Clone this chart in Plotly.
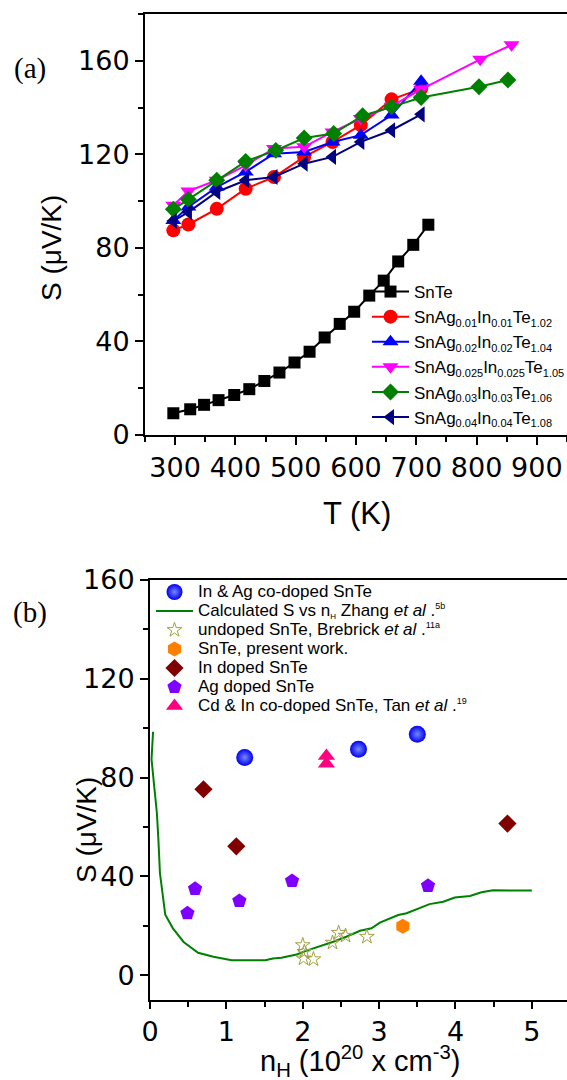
import plotly.graph_objects as go

# ---------------- Panel (a): S vs T ----------------
T_snte = [297, 325, 348, 372, 398, 423, 448, 473, 498, 523, 548, 573, 597, 622, 646, 670, 695, 720]
S_snte = [9.3, 11.0, 12.9, 14.9, 17.1, 19.6, 23.1, 26.7, 31.0, 35.6, 41.7, 47.5, 52.7, 59.6, 66.0, 74.2, 81.3, 89.9]

T_01 = [297, 322, 369, 417, 464, 514, 561, 608, 659, 708]
S_01 = [87.5, 90.0, 96.7, 105.3, 110.3, 118.9, 125.3, 132.5, 143.5, 148.0]

T_02 = [297, 322, 369, 417, 464, 514, 561, 608, 659, 708]
S_02 = [91.7, 97.5, 106.0, 112.5, 120.3, 121.0, 125.3, 128.2, 136.8, 151.3]

T_025 = [297, 322, 369, 417, 464, 514, 561, 608, 659, 708, 806, 858]
S_025 = [98.2, 104.3, 108.9, 115.3, 122.5, 123.2, 129.6, 135.3, 140.6, 147.8, 160.6, 166.8]

T_03 = [297, 322, 369, 417, 467, 514, 563, 611, 659, 708, 804, 852]
S_03 = [96.5, 100.7, 108.9, 117.0, 121.7, 127.0, 128.9, 136.5, 140.3, 144.3, 148.9, 151.8]

T_04 = [297, 322, 369, 417, 464, 514, 561, 608, 659, 708]
S_04 = [91.5, 95.3, 103.9, 108.9, 110.3, 116.0, 118.9, 125.3, 130.3, 137.1]


def sb(s):
    return "<sub><span style='font-size:11px'>" + s + "</span></sub>"


names_a = [
    "SnTe",
    "SnAg" + sb("0.01") + "In" + sb("0.01") + "Te" + sb("1.02"),
    "SnAg" + sb("0.02") + "In" + sb("0.02") + "Te" + sb("1.04"),
    "SnAg" + sb("0.025") + "In" + sb("0.025") + "Te" + sb("1.05"),
    "SnAg" + sb("0.03") + "In" + sb("0.03") + "Te" + sb("1.06"),
    "SnAg" + sb("0.04") + "In" + sb("0.04") + "Te" + sb("1.08"),
]

# ---------------- Panel (b): S vs n_H ----------------
n_coAgIn = [1.24, 2.73, 3.50]
S_coAgIn = [88.2, 91.5, 97.6]

n_calc = [0.04, 0.02, 0.06, 0.09, 0.11, 0.13, 0.20, 0.30, 0.44, 0.63, 0.83, 1.07, 1.51, 1.61, 1.72,
          1.92, 2.07, 2.23, 2.40, 2.57, 2.75, 2.90, 3.01, 3.25, 3.36, 3.66, 3.84, 3.99, 4.19, 4.34, 4.49, 5.00]
S_calc = [98.6, 87.5, 75.0, 65.8, 54.9, 41.4, 24.5, 19.0, 13.5, 9.1, 7.5, 6.1, 6.1, 6.8, 7.1,
          8.4, 10.2, 11.8, 13.6, 15.6, 18.0, 19.0, 21.3, 24.4, 25.1, 28.8, 29.8, 31.5, 32.1, 33.6, 34.4, 34.3]

n_undoped = [2.00, 2.02, 2.01, 2.14, 2.39, 2.47, 2.56, 2.84]
S_undoped = [12.2, 9.5, 6.8, 6.5, 13.2, 17.2, 16.0, 15.6]

n_present = [3.31]
S_present = [19.9]

n_In = [0.70, 1.13, 4.68]
S_In = [75.3, 52.2, 61.4]

n_Ag = [0.49, 0.59, 1.17, 1.86, 3.64]
S_Ag = [25.1, 35.0, 30.1, 38.2, 36.2]

n_CdIn = [2.31, 2.31]
S_CdIn = [88.8, 85.6]

names_b = [
    "In &amp; Ag co-doped SnTe",
    "Calculated S vs n<sub><span style='font-size:8px'>H</span></sub> Zhang <i>et al</i> .<sup><span style='font-size:9px'>5b</span></sup>",
    "undoped SnTe, Brebrick <i>et al</i> .<sup><span style='font-size:9px'>11a</span></sup>",
    "SnTe, present work.",
    "In doped SnTe",
    "Ag doped SnTe",
    "Cd &amp; In co-doped SnTe, Tan <i>et al</i> .<sup><span style='font-size:9px'>19</span></sup>",
]

W, H = 567, 1080
FONT = "Liberation Sans, Arial, sans-serif"
TICKFONT = "DejaVu Sans, Liberation Sans, sans-serif"


def big(s):
    return '<span style="font-size:17px">' + s + '</span>'


fig = go.Figure()

series_a = [
    (T_snte, S_snte, "#000000", "square", 12),
    (T_01, S_01, "#ff0000", "circle", 14),
    (T_02, S_02, "#0000ff", "triangle-up", 14),
    (T_025, S_025, "#ff00ff", "triangle-down", 14),
    (T_03, S_03, "#008000", "diamond", 13),
    (T_04, S_04, "#000080", "triangle-left", 14),
]
for (xs, ys, col, sym, sz), nm in zip(series_a, names_a):
    fig.add_trace(go.Scatter(
        x=xs, y=ys, mode="lines+markers", name=nm,
        line=dict(color=col, width=2),
        marker=dict(symbol=sym, size=sz, color=col),
        xaxis="x", yaxis="y", legend="legend"))

# panel b traces
fig.add_trace(go.Scatter(
    x=n_coAgIn, y=S_coAgIn, mode="markers", name=big(names_b[0]),
    marker=dict(symbol="circle", size=17, color="#0000f0",
                gradient=dict(type="radial", color="#7888ff")),
    xaxis="x2", yaxis="y2", legend="legend2"))
fig.add_trace(go.Scatter(
    x=n_calc, y=S_calc, mode="lines", name=big(names_b[1]),
    line=dict(color="#008000", width=2),
    xaxis="x2", yaxis="y2", legend="legend2"))
fig.add_trace(go.Scatter(
    x=n_undoped, y=S_undoped, mode="markers", name=big(names_b[2]),
    marker=dict(symbol="star-open", size=11, color="#a0a040", line=dict(width=1)),
    xaxis="x2", yaxis="y2", legend="legend2"))
fig.add_trace(go.Scatter(
    x=n_present, y=S_present, mode="markers", name=big(names_b[3]),
    marker=dict(symbol="hexagon", size=15, color="#ff8000"),
    xaxis="x2", yaxis="y2", legend="legend2"))
fig.add_trace(go.Scatter(
    x=n_In, y=S_In, mode="markers", name=big(names_b[4]),
    marker=dict(symbol="diamond", size=14, color="#800000"),
    xaxis="x2", yaxis="y2", legend="legend2"))
fig.add_trace(go.Scatter(
    x=n_Ag, y=S_Ag, mode="markers", name=big(names_b[5]),
    marker=dict(symbol="pentagon", size=15, color="#8000ff"),
    xaxis="x2", yaxis="y2", legend="legend2"))
fig.add_trace(go.Scatter(
    x=n_CdIn, y=S_CdIn, mode="markers", name=big(names_b[6]),
    marker=dict(symbol="triangle-up", size=15, color="#ff0080"),
    xaxis="x2", yaxis="y2", legend="legend2"))

axis_common = dict(
    showline=True, linewidth=2, linecolor="#000000", showgrid=False, zeroline=False,
    ticks="outside", tickwidth=1.5, tickcolor="#000000",
    tickfont=dict(family=TICKFONT, size=27, color="#000000"),
)
minor_common = dict(ticks="outside", ticklen=5, tickwidth=1.5, tickcolor="#000000")

fig.update_layout(
    width=W, height=H,
    margin=dict(l=0, r=0, t=0, b=0, autoexpand=False),
    plot_bgcolor="white", paper_bgcolor="white",
    font=dict(family=FONT, color="#000000"),
    xaxis=dict(domain=[145 / W, 1.0], range=[250, 950], anchor="y",
               tickmode="linear", tick0=300, dtick=100, mirror=True, ticklen=8,
               minor=dict(tick0=250, dtick=50, **minor_common),
               **axis_common),
    yaxis=dict(domain=[1 - 435 / H, 1 - 14 / H], range=[0, 180], anchor="x",
               tickmode="linear", tick0=0, dtick=40, ticklen=8,
               minor=dict(tick0=0, dtick=20, **minor_common),
               **axis_common),
    xaxis2=dict(domain=[150 / W, 1.0], range=[0, 5.46], anchor="y2",
                tickmode="linear", tick0=0, dtick=1, mirror=True, ticklen=7,
                minor=dict(tick0=0, dtick=0.5, **minor_common),
                **axis_common),
    yaxis2=dict(domain=[1 - 1000 / H, 1 - 580 / H], range=[-10, 160], anchor="x2",
                tickmode="linear", tick0=0, dtick=40, ticklen=8,
                minor=dict(tick0=0, dtick=20, **minor_common),
                **axis_common),
    legend=dict(x=367 / W, y=1 - 274 / H, xanchor="left", yanchor="top",
                bgcolor="rgba(0,0,0,0)", borderwidth=0,
                font=dict(family=FONT, size=17, color="#000000"),
                tracegroupgap=0, itemwidth=37),
    legend2=dict(x=151 / W, y=1 - 577.5 / H, xanchor="left", yanchor="top",
                 bgcolor="rgba(0,0,0,0)", borderwidth=0,
                 font=dict(family=FONT, size=12, color="#000000"),
                 tracegroupgap=0, itemwidth=37),
)

ann = [
    dict(text="(a)", x=30, y=68, size=29, family="Liberation Serif, Times New Roman, serif", angle=0),
    dict(text="(b)", x=30, y=612, size=29, family="Liberation Serif, Times New Roman, serif", angle=0),
    dict(text="S (μV/K)", x=51, y=248, size=28, family=FONT, angle=-90),
    dict(text="S (μV/K)", x=86, y=830, size=28, family=FONT, angle=-90),
    dict(text="T (K)", x=357, y=514, size=31, family=FONT, angle=0),
    dict(text="n<sub>H</sub> (10<sup>20</sup> x cm<sup>-3</sup>)", x=360, y=1061, size=29, family=FONT, angle=0),
]
for a in ann:
    fig.add_annotation(
        text=a["text"], x=a["x"] / W, y=1 - a["y"] / H, xref="paper", yref="paper",
        xanchor="center", yanchor="middle", showarrow=False, textangle=a["angle"],
        font=dict(family=a["family"], size=a["size"], color="#000000"))

fig.write_html("out.html")
